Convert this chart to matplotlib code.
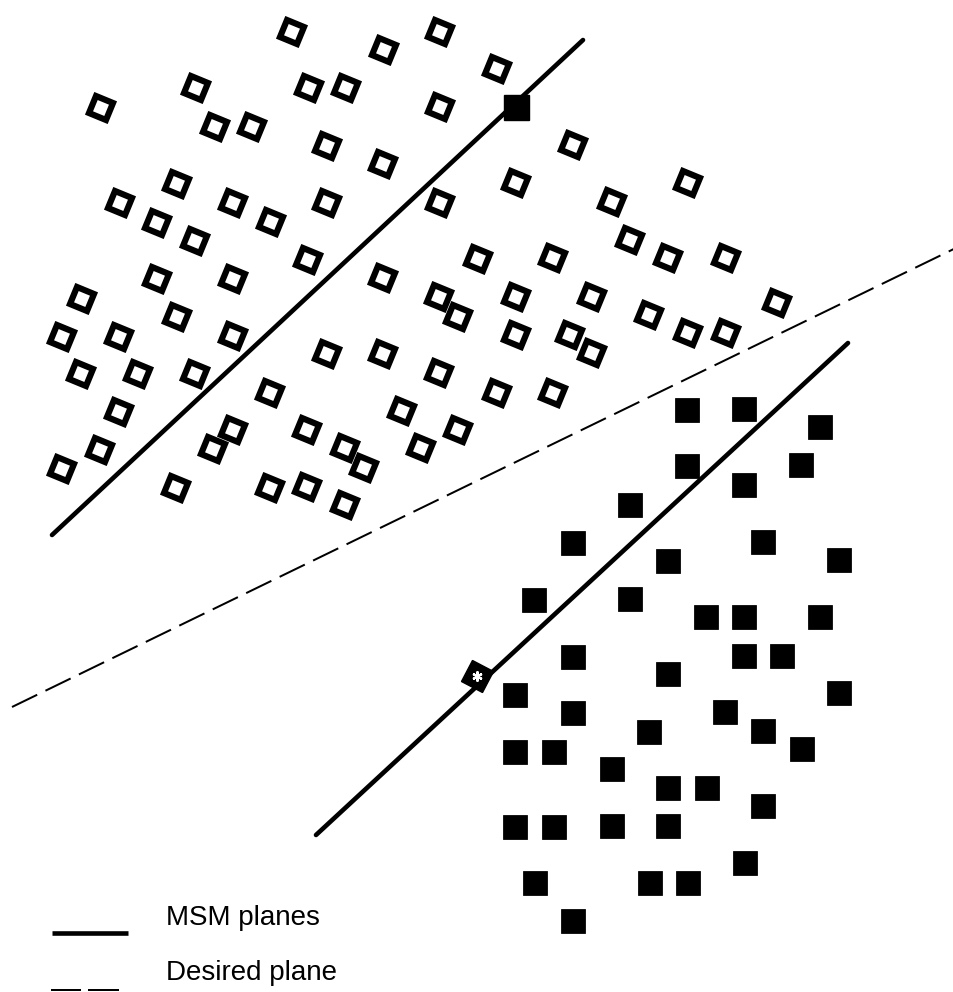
import matplotlib.pyplot as plt
from matplotlib.markers import MarkerStyle
from matplotlib.transforms import Affine2D

# class A points (open, tilted squares)
open_x = [292, 384, 440, 497,
          101, 196, 309, 346, 440,
          215, 252, 327, 383, 573,
          177, 120, 233, 271, 327, 157, 195,
          440, 516, 612, 688,
          630, 668, 726, 478, 553, 308,
          157, 233, 383, 82, 439, 458, 516, 592,
          177, 62, 119, 233, 516, 570, 592, 649, 688, 726, 777,
          81, 138, 195, 327, 383, 439, 497, 553,
          119, 270, 402,
          100, 62, 233, 213, 307, 345, 364, 421, 458,
          176, 270, 307, 345]
open_y = [32, 50, 32, 69,
          108, 88, 88, 88, 107,
          127, 127, 146, 164, 145,
          184, 203, 203, 222, 203, 223, 241,
          203, 183, 202, 183,
          240, 258, 258, 259, 258, 260,
          279, 279, 278, 299, 297, 317, 297, 297,
          317, 337, 337, 336, 335, 335, 353, 315, 333, 333, 303,
          374, 374, 374, 354, 354, 373, 393, 393,
          412, 393, 411,
          450, 469, 430, 449, 430, 448, 468, 448, 430,
          488, 488, 487, 505]

# class B points (filled squares)
filled_x = [687, 744, 820, 687, 801, 744, 630, 573, 763, 839, 668,
            534, 630, 706, 744, 820, 573, 744, 782, 668, 839, 515,
            573, 725, 649, 763, 515, 554, 802, 612, 668, 707, 763,
            515, 554, 612, 668, 745, 535, 650, 688, 573]
filled_y = [410, 409, 427, 466, 465, 485, 505, 543, 542, 560, 561,
            600, 599, 617, 617, 617, 657, 656, 656, 674, 693, 695,
            713, 712, 732, 731, 752, 752, 749, 769, 788, 788, 806,
            827, 827, 826, 826, 863, 883, 883, 883, 921]

# support points lying on the MSM planes
support_a = (516, 107)
support_b = (477, 676)

# plane end points
msm1_x, msm1_y = [52, 583], [535, 40]
msm2_x, msm2_y = [316, 848], [835, 343]
desired_x, desired_y = [12, 962], [707, 245]

W, H = 954, 992
fig = plt.figure(figsize=(W / 100, H / 100), dpi=100)
ax = fig.add_axes([0, 0, 1, 1])
ax.set_xlim(0, W)
ax.set_ylim(H, 0)
ax.axis('off')

px = 0.72  # points per pixel at 100 dpi

ax.plot(msm1_x, msm1_y, color='black', lw=4.6 * px, solid_capstyle='round', zorder=2)
ax.plot(msm2_x, msm2_y, color='black', lw=4.6 * px, solid_capstyle='round', zorder=2)
ax.plot(desired_x, desired_y, color='black', lw=2.0 * px,
        linestyle=(0, (14, 4.6)), zorder=2)

tilt = MarkerStyle('s', transform=Affine2D().rotate_deg(-22))
ax.plot(open_x, open_y, linestyle='none', marker=tilt, markersize=19 * px,
        markerfacecolor='none', markeredgecolor='black', markeredgewidth=6.2 * px, zorder=3)

ax.plot(filled_x, filled_y, linestyle='none', marker='s', markersize=24 * px,
        markerfacecolor='black', markeredgecolor='black', markeredgewidth=0.8 * px, zorder=3)

ax.plot(*support_a, marker='s', markersize=25 * px, color='black', zorder=4)
tilt_b = MarkerStyle('s', transform=Affine2D().rotate_deg(-28))
ax.plot(*support_b, marker=tilt_b, markersize=23 * px, color='black', zorder=4)
ax.plot(*support_b, marker=(6, 2, 0), markersize=10 * px, color='white',
        markeredgewidth=2.2 * px, zorder=5)

# key
ax.plot([52, 128], [933, 933], color='black', lw=4.6 * px, solid_capstyle='butt')
ax.plot([52, 80], [990, 990], color='black', lw=2.0 * px)
ax.plot([89, 118], [990, 990], color='black', lw=2.0 * px)
ax.text(166, 925, 'MSM planes', fontsize=20, family='Liberation Sans', va='baseline')
ax.text(166, 980, 'Desired plane', fontsize=20, family='Liberation Sans', va='baseline')

fig.savefig('out.png', dpi=100)
